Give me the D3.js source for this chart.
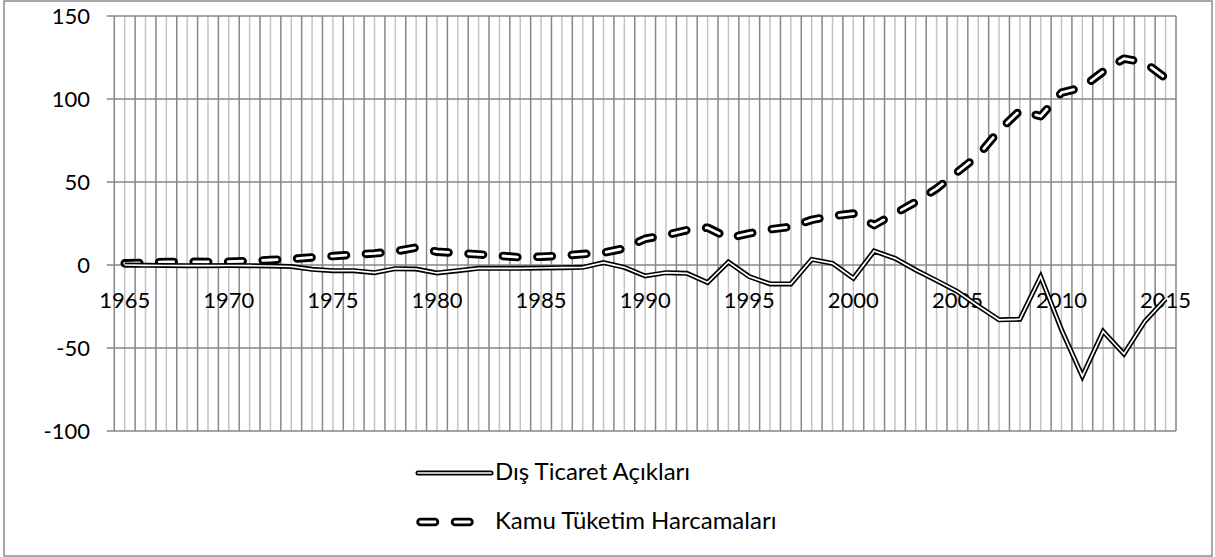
<!DOCTYPE html>
<html>
<head>
<meta charset="utf-8">
<script src="https://cdn.jsdelivr.net/npm/d3@7"></script>
<style>
    html, body { margin: 0; padding: 0; background: #fff; }
    svg text { font-family: Lato, "Open Sans", sans-serif; fill: #000; }
</style>
</head>
<body>
<svg id="chart" width="1215" height="557"></svg>
<script>
'use strict';

var years = d3.range(1965, 2016);

var disTicaret = [
    0, -0.2, -0.3, -0.4, -0.4, -0.3, -0.4, -0.6, -0.9, -2.6,
    -3.4, -3.4, -4.6, -2.2, -2.4, -4.8, -3.4, -2.0, -2.0, -2.0,
    -1.8, -1.6, -1.4, 1.4, -1.4, -6.6, -4.6, -5.0, -10.6, 1.8,
    -7.0, -11.4, -11.4, 3.4, 1.0, -8.0, 8.4, 4.0, -3.0, -9.4,
    -16.0, -24.7, -33.0, -32.7, -7.0, -39.0, -67.0, -40.0, -53.6, -34.0,
    -20.5
];

var kamuHarcama = [
    1.0, 1.4, 1.8, 2.0, 1.8, 2.0, 2.4, 3.0, 3.6, 4.6,
    5.4, 6.2, 7.0, 8.2, 10.5, 8.0, 7.2, 6.4, 5.6, 4.6,
    5.0, 5.6, 6.6, 7.4, 10.0, 15.8, 18.0, 21.0, 22.5, 16.3,
    19.0, 21.5, 23.0, 27.2, 29.5, 31.0, 24.0, 31.0, 38.0, 46.0,
    56.0, 66.0, 81.0, 93.0, 89.6, 103.8, 107.0, 116.5, 124.3, 122.0,
    112.5
];

var yTicks = [-100, -50, 0, 50, 100, 150];
var xLabelYears = [1965, 1970, 1975, 1980, 1985, 1990, 1995, 2000, 2005, 2010, 2015];

var seriesNames = ['Dış Ticaret Açıkları', 'Kamu Tüketim Harcamaları'];

var plot = {left: 114.3, right: 1176, top: 16, bottom: 431};
var gridDark = '#878787',
    gridLight = '#c3c3c3';

var svg = d3.select('#chart');

// chart area border
svg.append('rect')
    .attr('x', 4).attr('y', 1)
    .attr('width', 1208).attr('height', 555)
    .attr('fill', '#fff')
    .attr('stroke', '#8c8c8c')
    .attr('stroke-width', 1.5);

var x = d3.scaleBand()
    .domain(years)
    .range([plot.left, plot.right])
    .padding(0);

var y = d3.scaleLinear()
    .domain([-100, 150])
    .range([plot.bottom, plot.top]);

function xc(yr) { return x(yr) + x.bandwidth() / 2; }

var grid = svg.append('g').attr('class', 'grid');

// minor gridlines at category centres
grid.selectAll('line.minor')
    .data(years)
    .enter().append('line')
        .attr('class', 'minor')
        .attr('x1', xc).attr('x2', xc)
        .attr('y1', plot.top).attr('y2', plot.bottom)
        .attr('stroke', gridLight)
        .attr('stroke-width', 1.5);

// major gridlines at category boundaries
var bounds = years.map(function(yr) { return x(yr); }).concat([plot.right]);
grid.selectAll('line.major')
    .data(bounds)
    .enter().append('line')
        .attr('class', 'major')
        .attr('x1', function(d) { return d; })
        .attr('x2', function(d) { return d; })
        .attr('y1', plot.top).attr('y2', plot.bottom)
        .attr('stroke', gridDark)
        .attr('stroke-width', 1.5);

// horizontal gridlines + value axis ticks
grid.selectAll('line.hgrid')
    .data(yTicks)
    .enter().append('line')
        .attr('class', 'hgrid')
        .attr('x1', plot.left - 7.5)
        .attr('x2', plot.right)
        .attr('y1', y).attr('y2', y)
        .attr('stroke', gridDark)
        .attr('stroke-width', 1.5);

svg.append('g').selectAll('text')
    .data(yTicks)
    .enter().append('text')
        .attr('x', 90)
        .attr('y', function(d) { return y(d) + 8; })
        .attr('text-anchor', 'end')
        .style('font-size', '22px')
        .text(function(d) { return d; });

svg.append('g').selectAll('text')
    .data(xLabelYears)
    .enter().append('text')
        .attr('x', xc)
        .attr('y', y(0) + 43)
        .attr('text-anchor', 'middle')
        .style('font-size', '22px')
        .text(function(d) { return d; });

var line = d3.line()
    .x(function(d, i) { return xc(years[i]); })
    .y(function(d) { return y(d); });

var dash = '14.5 20';

var lines = svg.append('g').attr('class', 'lines');

// Kamu Tüketim Harcamaları: dashed double line
lines.append('path')
    .attr('d', line(kamuHarcama))
    .attr('fill', 'none')
    .attr('stroke', '#000')
    .attr('stroke-width', 8.5)
    .attr('stroke-linecap', 'round')
    .attr('stroke-linejoin', 'round')
    .attr('stroke-dasharray', dash);
lines.append('path')
    .attr('d', line(kamuHarcama))
    .attr('fill', 'none')
    .attr('stroke', '#fff')
    .attr('stroke-width', 2.8)
    .attr('stroke-linecap', 'round')
    .attr('stroke-linejoin', 'round')
    .attr('stroke-dasharray', dash);

// Dış Ticaret Açıkları: solid double line
lines.append('path')
    .attr('d', line(disTicaret))
    .attr('fill', 'none')
    .attr('stroke', '#000')
    .attr('stroke-width', 5);
lines.append('path')
    .attr('d', line(disTicaret))
    .attr('fill', 'none')
    .attr('stroke', '#fff')
    .attr('stroke-width', 1.7);

// legend
var legend = svg.append('g').attr('class', 'legend');

legend.append('line')
    .attr('x1', 418).attr('x2', 491)
    .attr('y1', 473).attr('y2', 473)
    .attr('stroke', '#000').attr('stroke-width', 5)
    .attr('stroke-linecap', 'round');
legend.append('line')
    .attr('x1', 418).attr('x2', 491)
    .attr('y1', 473).attr('y2', 473)
    .attr('stroke', '#fff').attr('stroke-width', 1.7)
    .attr('stroke-linecap', 'round');

legend.append('line')
    .attr('x1', 420.5).attr('x2', 474)
    .attr('y1', 522).attr('y2', 522)
    .attr('stroke', '#000').attr('stroke-width', 8.5)
    .attr('stroke-linecap', 'round')
    .attr('stroke-dasharray', dash);
legend.append('line')
    .attr('x1', 420.5).attr('x2', 474)
    .attr('y1', 522).attr('y2', 522)
    .attr('stroke', '#fff').attr('stroke-width', 2.8)
    .attr('stroke-linecap', 'round')
    .attr('stroke-dasharray', dash);

legend.selectAll('text')
    .data(seriesNames)
    .enter().append('text')
        .attr('x', 495)
        .attr('y', function(d, i) { return 480 + i * 49; })
        .style('font-size', '24px')
        .text(function(d) { return d; });
</script>
</body>
</html>
